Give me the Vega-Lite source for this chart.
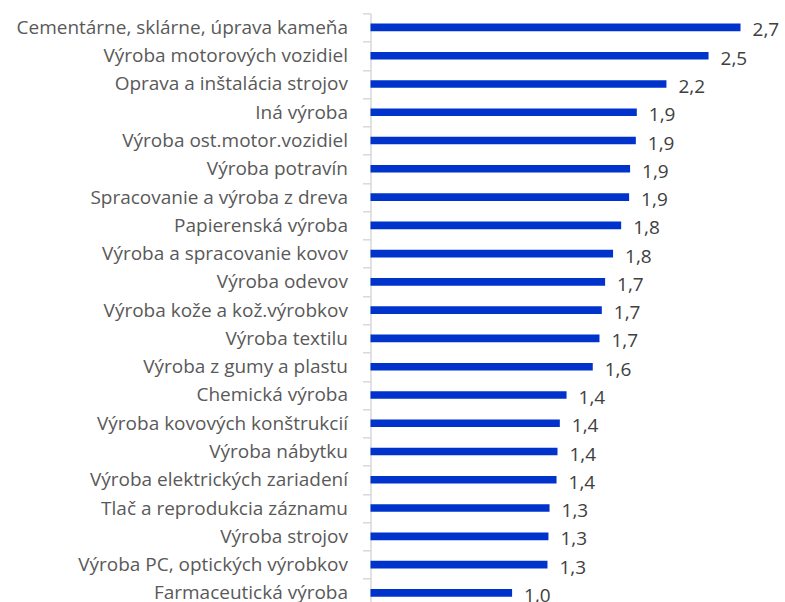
{
  "$schema": "https://vega.github.io/schema/vega-lite/v6.json",
  "autosize": {"type": "none"},
  "padding": {"left": 370.5, "top": 13.3, "right": 0, "bottom": 0},
  "width": 411.6,
  "height": 593.7,
  "background": "white",
  "data": {
    "values": [
      {"odvetvie": "Cementárne, sklárne, úprava kameňa", "hodnota": 2.697},
      {"odvetvie": "Výroba motorových vozidiel", "hodnota": 2.464},
      {"odvetvie": "Oprava a inštalácia strojov", "hodnota": 2.157},
      {"odvetvie": "Iná výroba", "hodnota": 1.941},
      {"odvetvie": "Výroba ost.motor.vozidiel", "hodnota": 1.934},
      {"odvetvie": "Výroba potravín", "hodnota": 1.892},
      {"odvetvie": "Spracovanie a výroba z dreva", "hodnota": 1.885},
      {"odvetvie": "Papierenská výroba", "hodnota": 1.827},
      {"odvetvie": "Výroba a spracovanie kovov", "hodnota": 1.768},
      {"odvetvie": "Výroba odevov", "hodnota": 1.71},
      {"odvetvie": "Výroba kože a kož.výrobkov", "hodnota": 1.686},
      {"odvetvie": "Výroba textilu", "hodnota": 1.669},
      {"odvetvie": "Výroba z gumy a plastu", "hodnota": 1.62},
      {"odvetvie": "Chemická výroba", "hodnota": 1.429},
      {"odvetvie": "Výroba kovových konštrukcií", "hodnota": 1.38},
      {"odvetvie": "Výroba nábytku", "hodnota": 1.363},
      {"odvetvie": "Výroba elektrických zariadení", "hodnota": 1.356},
      {"odvetvie": "Tlač a reprodukcia záznamu", "hodnota": 1.305},
      {"odvetvie": "Výroba strojov", "hodnota": 1.297},
      {"odvetvie": "Výroba PC, optických výrobkov", "hodnota": 1.29},
      {"odvetvie": "Farmaceutická výroba", "hodnota": 1.032}
    ]
  },
  "encoding": {
    "y": {
      "field": "odvetvie",
      "type": "nominal",
      "sort": null,
      "scale": {"paddingInner": 0, "paddingOuter": 0},
      "axis": {
        "title": null,
        "domainColor": "#d9d9d9",
        "domainWidth": 1.5,
        "tickColor": "#d9d9d9",
        "tickWidth": 1.5,
        "tickSize": 8,
        "tickBand": "extent",
        "labelFont": "Open Sans",
        "labelFontSize": 19,
        "labelColor": "#595959",
        "labelPadding": 15,
        "labelLimit": 400
      }
    },
    "x": {
      "field": "hodnota",
      "type": "quantitative",
      "scale": {"domain": [0, 3]},
      "axis": null
    }
  },
  "layer": [
    {
      "mark": {"type": "bar", "color": "#0033cc", "height": {"band": 0.27}}
    },
    {
      "mark": {"type": "text", "align": "left", "baseline": "middle", "dx": 12, "dy": 3, "font": "Open Sans", "fontSize": 19, "color": "#404040"},
      "encoding": {"text": {"field": "hodnota", "type": "quantitative", "format": ".1f"}}
    }
  ],
  "config": {
    "view": {"stroke": null},
    "locale": {"number": {"decimal": ",", "thousands": " ", "grouping": [3], "currency": ["", " €"]}}
  }
}
